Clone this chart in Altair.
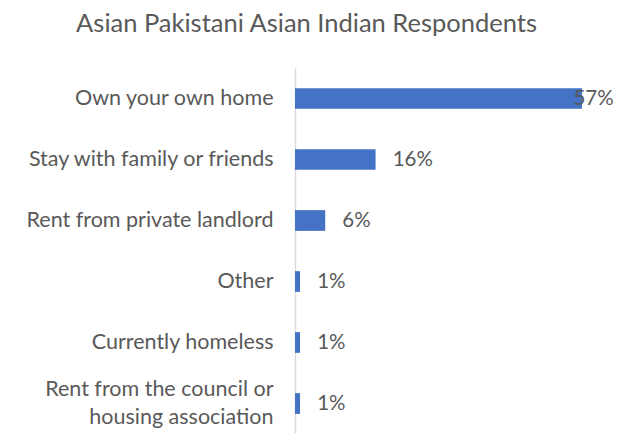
import altair as alt
import pandas as pd

categories = [
    "Own your own home",
    "Stay with family or friends",
    "Rent from private landlord",
    "Other",
    "Currently homeless",
    "Rent from the council or\nhousing association",
]
values = [57, 16, 6, 1, 1, 1]

df = pd.DataFrame({"category": categories, "value": values})

FONT = "Lato"
GREY = "#595959"
FS = 21.5

y_enc = alt.Y(
    "category:N",
    sort=categories,
    title=None,
    scale=alt.Scale(paddingInner=0.66, paddingOuter=0.33),
    axis=alt.Axis(
        labelExpr="split(datum.label, '\\n')",
        labelFont=FONT,
        labelFontSize=FS,
        labelColor=GREY,
        labelPadding=22,
        labelLimit=0,
        ticks=False,
        domainColor="#d9d9d9",
        domainWidth=1.5,
        labelLineHeight=28,
        labelOffset={"condition": {"test": "indexof(datum.value, '\\n') >= 0", "value": -14}, "value": 0},
    ),
)

xscale = alt.Scale(domain=[0, 57], nice=False)

bars = alt.Chart(df).mark_bar(color="#4472C4").encode(
    x=alt.X("value:Q", scale=xscale, axis=None),
    y=y_enc,
)

labels = alt.Chart(df).transform_calculate(
    lx="min(datum.value + 3.4, 55.3)",
    txt="datum.value + '%'",
).mark_text(align="left", baseline="middle", font=FONT, fontSize=20.5, color=GREY).encode(
    x=alt.X("lx:Q", scale=xscale, axis=None),
    y=alt.Y("category:N", sort=categories),
    text="txt:N",
)

chart = (bars + labels).properties(
    width=287,
    height=366,
    padding={"left": 287, "top": 60, "right": 31, "bottom": 0},
    autosize=alt.AutoSizeParams(type="none"),
    title=alt.TitleParams(
        "Asian Pakistani Asian Indian Respondents",
        font=FONT,
        fontSize=25.5,
        fontWeight="normal",
        color=GREY,
        anchor="middle",
        frame="group",
        dx=-132,
        dy=-27,
    ),
).configure_view(stroke=None)

chart.save("out.html", embed_options={"renderer": "svg", "actions": False})
